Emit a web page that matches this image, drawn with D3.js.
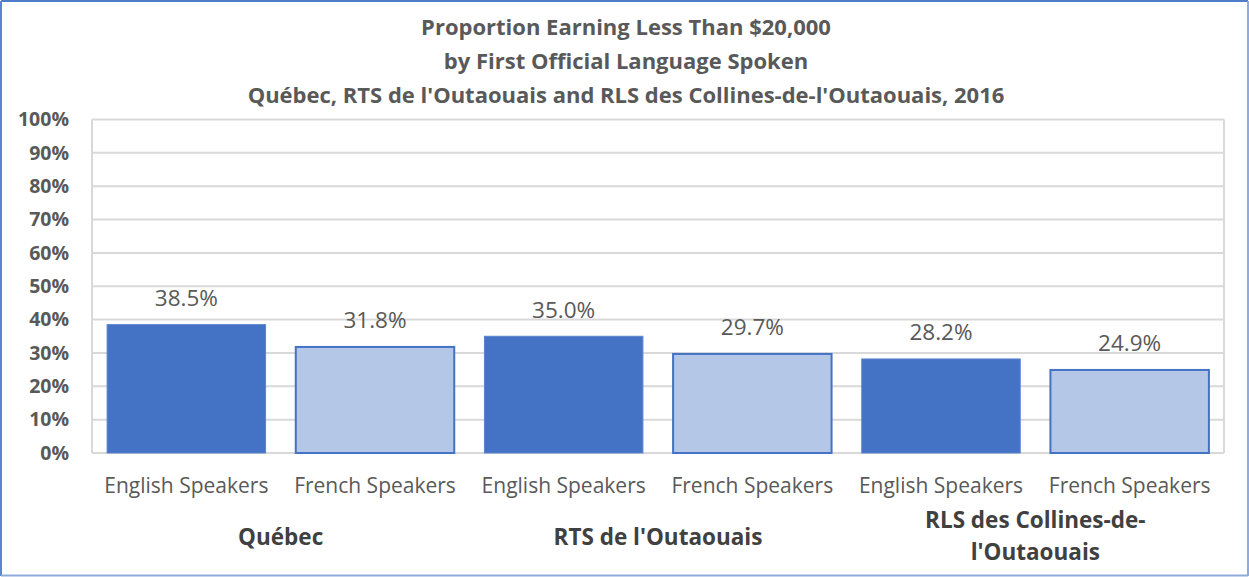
<!DOCTYPE html>
<html>
<head>
<meta charset="utf-8">
<script src="https://cdn.jsdelivr.net/npm/d3@7"></script>
<style>
  html, body { margin: 0; padding: 0; background: #fff; }
  svg { display: block; font-family: "Open Sans", Lato, sans-serif; }
</style>
</head>
<body>
<svg id="chart" width="1249" height="577"></svg>
<script>
// chart data
const titleLines = [
    "Proportion Earning Less Than $20,000",
    "by First Official Language Spoken",
    "Québec, RTS de l'Outaouais and RLS des Collines-de-l'Outaouais,  2016"
];
const regions = ["Québec", "RTS de l'Outaouais", "RLS des Collines-de-l'Outaouais"];
const regionLabelLines = [["Québec"], ["RTS de l'Outaouais"], ["RLS des Collines-de-", "l'Outaouais"]];
const speakers = ["English Speakers", "French Speakers"];
const englishValues = [38.5, 35.0, 28.2];
const frenchValues = [31.8, 29.7, 24.9];
const yTicks = [0, 10, 20, 30, 40, 50, 60, 70, 80, 90, 100];

// flatten into one bar per region/speaker pair
const bars = [];
regions.forEach((r, i) => {
    bars.push({ region: r, speaker: speakers[0], key: r + "|" + speakers[0], value: englishValues[i] });
    bars.push({ region: r, speaker: speakers[1], key: r + "|" + speakers[1], value: frenchValues[i] });
});

const svg = d3.select("#chart");
const W = 1249, H = 577;
const margin = { top: 119.5, right: 25, bottom: 124, left: 92 };
const width = W - margin.left - margin.right;
const height = H - margin.top - margin.bottom;
const font = "'Open Sans', Lato, sans-serif";

// outer frame
svg.append("line").attr("x1", 1).attr("x2", W - 1).attr("y1", 1).attr("y2", 1)
    .attr("stroke", "#4F7CCB").attr("stroke-width", 2);
svg.append("line").attr("x1", 1).attr("x2", 1).attr("y1", 1).attr("y2", 576)
    .attr("stroke", "#5A85CF").attr("stroke-width", 2);
svg.append("line").attr("x1", W - 1).attr("x2", W - 1).attr("y1", 1).attr("y2", 576)
    .attr("stroke", "#8FAADC").attr("stroke-width", 2);
svg.append("line").attr("x1", 1).attr("x2", W - 1).attr("y1", 575.5).attr("y2", 575.5)
    .attr("stroke", "#8FAADC").attr("stroke-width", 2);

// title
svg.append("text")
    .attr("text-anchor", "middle")
    .attr("font-weight", "bold")
    .attr("font-size", 22)
    .attr("fill", "#595959")
    .selectAll("tspan")
    .data(titleLines)
    .enter().append("tspan")
    .attr("x", 626)
    .attr("y", (d, i) => 35 + i * 34)
    .text(d => d);

const g = svg.append("g").attr("transform", `translate(${margin.left},${margin.top})`);

const x = d3.scaleBand()
    .domain(bars.map(d => d.key))
    .range([0, width])
    .paddingInner(0.16)
    .paddingOuter(0.08);
const y = d3.scaleLinear().domain([0, 100]).range([height, 0]);

// gridlines
g.append("g")
    .selectAll("line")
    .data(yTicks)
    .enter().append("line")
    .attr("x1", 0).attr("x2", width)
    .attr("y1", d => y(d)).attr("y2", d => y(d))
    .attr("stroke", "#D9D9D9")
    .attr("stroke-width", 2);

// plot area sides
g.append("line").attr("x1", 0).attr("x2", 0).attr("y1", 0).attr("y2", height)
    .attr("stroke", "#D9D9D9").attr("stroke-width", 2);
g.append("line").attr("x1", width).attr("x2", width).attr("y1", 0).attr("y2", height)
    .attr("stroke", "#D9D9D9").attr("stroke-width", 2);

// y axis
const yAxis = g.append("g")
    .call(d3.axisLeft(y).tickValues(yTicks).tickFormat(d => d + "%").tickSize(0).tickPadding(23));
yAxis.select(".domain").remove();
yAxis.selectAll("text")
    .attr("font-family", font)
    .attr("font-size", 19.5)
    .attr("font-weight", "bold")
    .attr("fill", "#595959");

// bars
g.selectAll(".bar")
    .data(bars)
    .enter().append("rect")
    .attr("class", "bar")
    .attr("x", d => x(d.key))
    .attr("width", x.bandwidth())
    .attr("y", d => y(d.value))
    .attr("height", d => height - y(d.value))
    .attr("fill", d => d.speaker === speakers[0] ? "#4472C4" : "#B4C7E7")
    .attr("stroke", d => d.speaker === speakers[0] ? "#5B84CC" : "#4472C4")
    .attr("stroke-width", d => d.speaker === speakers[0] ? 1 : 2);

// value labels
g.selectAll(".value")
    .data(bars)
    .enter().append("text")
    .attr("class", "value")
    .attr("x", d => x(d.key) + x.bandwidth() / 2)
    .attr("y", d => y(d.value) - 18.5)
    .attr("text-anchor", "middle")
    .attr("font-size", 22.5)
    .attr("fill", "#595959")
    .text(d => d.value.toFixed(1) + "%");

// x axis: speaker labels
g.selectAll(".cat")
    .data(bars)
    .enter().append("text")
    .attr("class", "cat")
    .attr("x", d => x(d.key) + x.bandwidth() / 2)
    .attr("y", height + 39.5)
    .attr("text-anchor", "middle")
    .attr("font-size", 21)
    .attr("fill", "#595959")
    .text(d => d.speaker);

// x axis: region labels
const step = x.step();
regions.forEach((r, i) => {
    const cx = i * 2 * step + step;
    const lines = regionLabelLines[i];
    const y0 = lines.length === 1 ? height + 91.5 : height + 75;
    g.append("text")
        .attr("text-anchor", "middle")
        .attr("font-size", 22.5)
        .attr("font-weight", "bold")
        .attr("fill", "#404040")
        .selectAll("tspan")
        .data(lines)
        .enter().append("tspan")
        .attr("x", cx)
        .attr("y", (d, j) => y0 + j * 32)
        .text(d => d);
});
</script>
</body>
</html>
